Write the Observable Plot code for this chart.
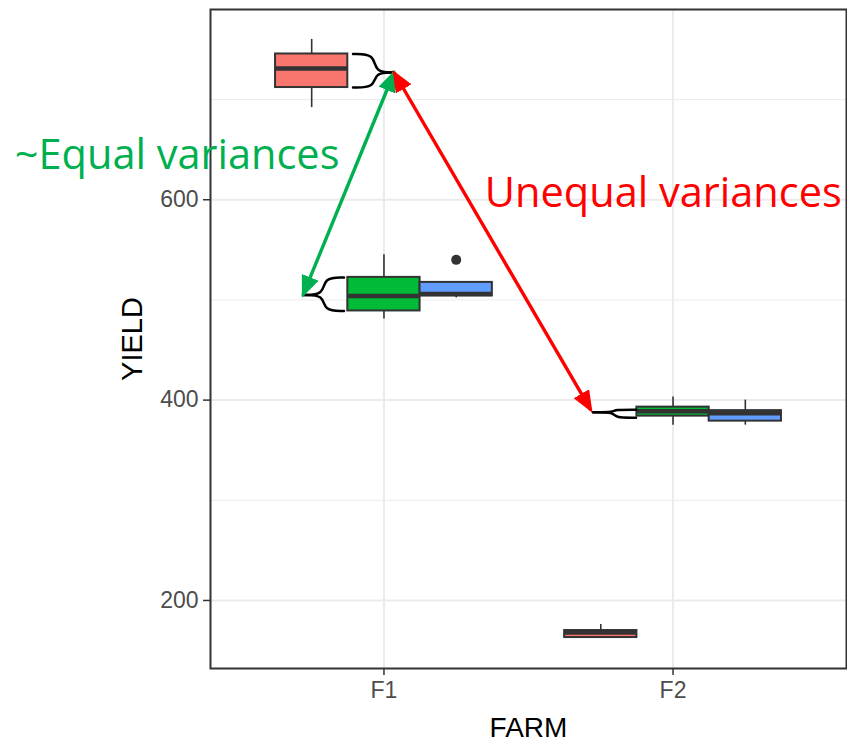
<!DOCTYPE html>
<html>
<head>
<meta charset="utf-8">
<script src="https://cdn.jsdelivr.net/npm/d3@7"></script>
<script src="https://cdn.jsdelivr.net/npm/@observablehq/plot@0.6"></script>
<style>
  html, body { margin: 0; padding: 0; background: #fff; }
  svg { display: block; }
</style>
</head>
<body>
<div id="chart"></div>
<script>
// ---- data ----
const farms = ["F1", "F2"];
const groups = ["G1", "G2", "G3"];
const groupColors = ["#F8766D", "#00BA38", "#619CFF"];

const boxFarm   = ["F1", "F1", "F1", "F2", "F2", "F2"];
const boxGroup  = ["G1", "G2", "G3", "G1", "G2", "G3"];
const whiskLow  = [692, 481, 502, 162, 375, 375];
const quart1    = [712, 489, 504, 163, 384, 379];
const medians   = [731, 504, 506, 168, 389, 387];
const quart3    = [745.5, 522.5, 517.5, 170, 393, 389.5];
const whiskHigh = [760, 545, 517.5, 176, 403, 400];

const outlierFarm  = ["F1"];
const outlierGroup = ["G3"];
const outlierYield = [540];

const yTicks = [200, 400, 600];
const yMinor = [300, 500, 700];

// annotations (data coordinates: farm position, yield)
const braceStartX = [0.893, 0.862, 1.872];
const braceBendX  = [0.968, 0.792, 1.796];
const braceTipX   = [1.035, 0.72, 1.723];
const braceTop    = [745.5, 522.5, 390.5];
const braceBottom = [712, 489, 382.5];
const braceMid    = [727, 505, 388];

const arrowFromX = [1.035, 1.035];
const arrowFromY = [727, 727];
const arrowToX   = [0.72, 1.716];
const arrowToY   = [505, 390];
const arrowColor = ["#00B050", "#FF0000"];

const labelText  = ["~Equal variances", "Unequal variances"];
const labelX     = [-0.277, 1.349];
const labelY     = [644.3, 606.5];
const labelColor = ["#00B050", "#FF0000"];

// ---- derived tables ----
const dodge = 0.25;
const boxes = boxFarm.map((f, i) => {
  const xc = farms.indexOf(f) + 1 + (groups.indexOf(boxGroup[i]) - 1) * dodge;
  return {xc, x1: xc - dodge / 2, x2: xc + dodge / 2, group: boxGroup[i],
          lo: whiskLow[i], q1: quart1[i], med: medians[i], q3: quart3[i], hi: whiskHigh[i]};
});
const outliers = outlierFarm.map((f, i) => ({
  xc: farms.indexOf(f) + 1 + (groups.indexOf(outlierGroup[i]) - 1) * dodge,
  y: outlierYield[i]
}));
const bracePts = [];
braceStartX.forEach((x0, i) => {
  for (const [half, ye] of [["a", braceTop[i]], ["b", braceBottom[i]]]) {
    const id = i + half;
    const xb = braceBendX[i], ym = braceMid[i];
    bracePts.push({id, x: x0, y: ye});
    bracePts.push({id, x: xb, y: ye});
    bracePts.push({id, x: xb, y: ym});
    bracePts.push({id, x: braceTipX[i], y: ym});
  }
});
const arrows = arrowFromX.map((x, i) => ({x1: x, y1: arrowFromY[i], x2: arrowToX[i], y2: arrowToY[i], c: arrowColor[i]}));
const labels = labelText.map((t, i) => ({t, x: labelX[i], y: labelY[i], c: labelColor[i]}));

const allY = [...whiskLow, ...whiskHigh, ...outlierYield];
const yLo = d3.min(allY), yHi = d3.max(allY), pad = (yHi - yLo) * 0.05;

const chart = Plot.plot({
  width: 847,
  height: 743,
  marginLeft: 210,
  marginRight: 1,
  marginTop: 9,
  marginBottom: 75,
  style: {fontFamily: "'Liberation Sans', Arial, sans-serif", background: "#fff"},
  x: {type: "linear", domain: [0.4, 2.6], axis: null},
  y: {domain: [yLo - pad, yHi + pad], axis: null},
  marks: [
    Plot.ruleY(yMinor, {stroke: "#EBEBEB", strokeWidth: 1}),
    Plot.ruleY(yTicks, {stroke: "#EBEBEB", strokeWidth: 2}),
    Plot.ruleX([1, 2], {stroke: "#EBEBEB", strokeWidth: 2}),
    Plot.axisY({ticks: yTicks, tickSize: 7, stroke: "#333333", strokeWidth: 1.5, tickPadding: 5,
                fontSize: 23, fill: "#4D4D4D", label: null}),
    Plot.axisX({ticks: [1, 2], tickFormat: d => farms[d - 1], tickSize: 7, stroke: "#333333", strokeWidth: 1.5,
                tickPadding: 6, fontSize: 23, fill: "#4D4D4D", label: null}),
    Plot.text(["YIELD"], {frameAnchor: "left", textAnchor: "middle", lineAnchor: "middle", dx: -78, rotate: -90, fontSize: 29, fill: "#000"}),
    Plot.text(["FARM"], {frameAnchor: "bottom", textAnchor: "middle", lineAnchor: "middle", dy: 60, fontSize: 28, fill: "#000"}),
    // whiskers
    Plot.ruleX(boxes, {x: "xc", y1: "lo", y2: "q1", stroke: "#333333", strokeWidth: 1.6}),
    Plot.ruleX(boxes, {x: "xc", y1: "q3", y2: "hi", stroke: "#333333", strokeWidth: 1.6}),
    // boxes
    Plot.rect(boxes, {x1: "x1", x2: "x2", y1: "q1", y2: "q3",
                      fill: d => groupColors[groups.indexOf(d.group)], stroke: "#333333", strokeWidth: 2}),
    Plot.ruleY(boxes, {x1: "x1", x2: "x2", y: "med", stroke: "#333333", strokeWidth: 4.5}),
    Plot.dot(outliers, {x: "xc", y: "y", r: 5, fill: "#333333", stroke: null}),
    Plot.frame({stroke: "#333333", strokeWidth: 2}),
    // annotations
    Plot.line(bracePts, {x: "x", y: "y", z: "id", curve: "basis", stroke: "#000", strokeWidth: 2.5}),
    Plot.link(arrows, {x1: "x1", y1: "y1", x2: "x2", y2: "y2", stroke: "c", strokeWidth: 3.4}),
    Plot.text(labels, {x: "x", y: "y", text: "t", fill: "c", textAnchor: "start", lineAnchor: "middle",
                       fontSize: 41.5, fontFamily: "'Open Sans', Lato, sans-serif"})
  ]
});

// filled double arrowheads on the annotation links
const svg = d3.select(chart);
const defs = svg.insert("defs", ":first-child");
svg.selectAll('g[aria-label="link"] path').each(function (d, i) {
  const p = d3.select(this);
  const col = p.attr("stroke") || arrows[i].c;
  const id = "arrowhead-" + i;
  defs.append("marker")
    .attr("id", id)
    .attr("markerUnits", "userSpaceOnUse")
    .attr("viewBox", "0 0 22 18")
    .attr("markerWidth", 22).attr("markerHeight", 18)
    .attr("refX", 19).attr("refY", 9)
    .attr("orient", "auto-start-reverse")
    .append("path").attr("d", "M0,0 L22,9 L0,18 Z").attr("fill", col);
  p.attr("marker-start", `url(#${id})`).attr("marker-end", `url(#${id})`);
});
document.getElementById("chart").appendChild(chart);
</script>
</body>
</html>
